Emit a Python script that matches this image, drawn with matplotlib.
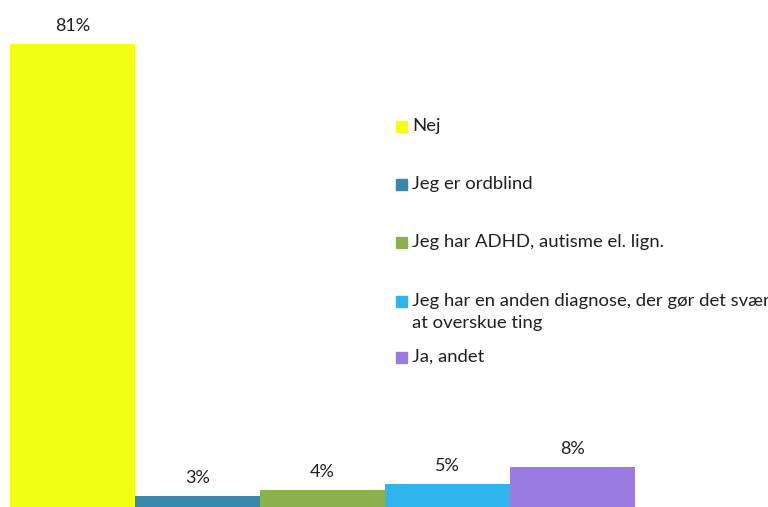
import matplotlib
matplotlib.use("Agg")
import matplotlib.pyplot as plt
from matplotlib.patches import Rectangle

categories = [
    "Nej",
    "Jeg er ordblind",
    "Jeg har ADHD, autisme el. lign.",
    "Jeg har en anden diagnose, der gør det svært\nat overskue ting",
    "Ja, andet",
]
values = [81, 3, 4, 5, 8]
colors = ["#F2FF12", "#3A87AD", "#8BB04E", "#30B4EE", "#9A7CE0"]

plt.rcParams["font.family"] = ["Lato", "DejaVu Sans"]

W, H = 768, 507
fig = plt.figure(figsize=(W / 100, H / 100), dpi=100)
# axis baseline sits a few pixels below the image edge
ax = fig.add_axes([10 / W, -6 / H, 625 / W, (513 - 44) / H])
x = range(len(values))
ax.bar(x, values, width=1.0, color=colors, edgecolor="none")
ax.set_xlim(-0.5, len(values) - 0.5)
ax.set_ylim(0, max(values))
ax.axis("off")

for xi, v in zip(x, values):
    ax.annotate(f"{v}%", (xi, v), xytext=(0, 7), textcoords="offset points",
                ha="center", va="bottom", fontsize=13, color="#202020",
                annotation_clip=False)

# legend drawn by hand to mimic the spreadsheet layout
legend_y = [127, 185, 243, 302, 358]
for label, color, y in zip(categories, colors, legend_y):
    fig.patches.append(Rectangle((396 / W, 1 - (y + 5) / H), 11 / W, 11 / H,
                                 transform=fig.transFigure, color=color))
    fig.text(412.5 / W, 1 - (y - 9) / H, label, ha="left", va="top",
             fontsize=13.3, color="#202020", linespacing=1.45)

fig.savefig("out.png", dpi=100)
